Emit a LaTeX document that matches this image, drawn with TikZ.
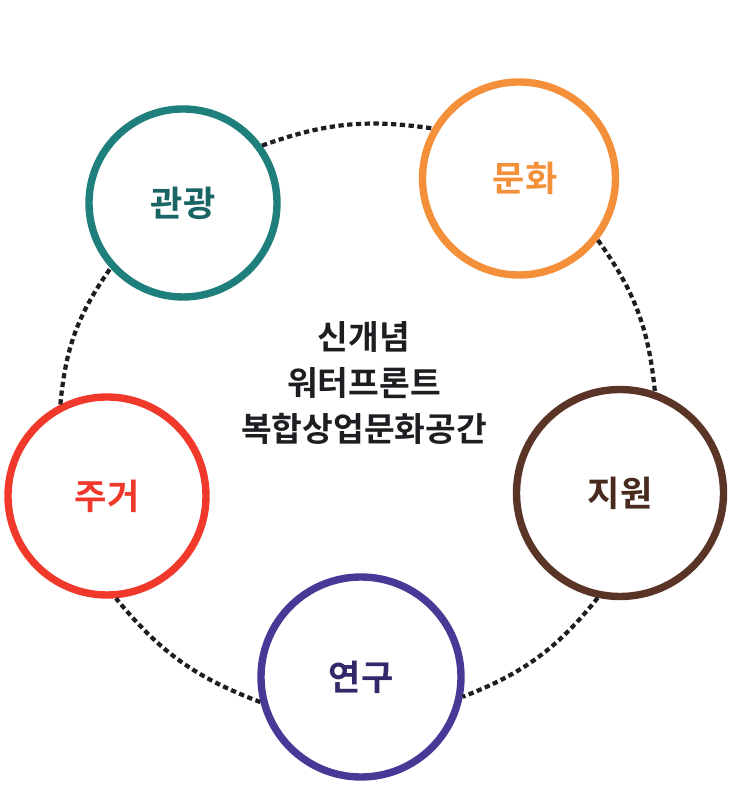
\documentclass[tikz,border=0pt]{standalone}
\usepackage{fontspec}
\setmainfont{Noto Sans CJK KR}[BoldFont={Noto Sans CJK KR Bold}]
\definecolor{tealring}{HTML}{1F7F7C}
\definecolor{orangering}{HTML}{F4903A}
\definecolor{brownring}{HTML}{5A3527}
\definecolor{purplering}{HTML}{463A96}
\definecolor{redring}{HTML}{F0392B}
\definecolor{inktext}{HTML}{1E1E22}
\tikzset{
    ring/.style={circle, draw=#1, line width=4.2pt, fill=white, minimum size=3.76cm, inner sep=0pt, font=\fontsize{20}{24}\selectfont\bfseries},
    link/.style={line width=2.4pt, dash pattern=on 3pt off 2pt, draw=inktext}
}
\begin{document}
\begin{tikzpicture}
    \useasboundingbox (0,0) rectangle (14.86,16.14);
    \fill[white] (0,0) rectangle (14.86,16.14);

    \node[ring=tealring, text=tealring!80!black] (tour) at (3.66,12.08) {관광};
    \node[ring=orangering, text=orangering, minimum size=3.86cm] (culture) at (10.38,12.57) {\hspace*{0.24cm}문화};
    \node[ring=brownring, text=brownring!80!black, minimum size=4.14cm] (support) at (12.40,6.28) {지원};
    \node[ring=purplering, text=purplering!70!black, minimum size=4cm] (research) at (7.22,2.6) {연구};
    \node[ring=redring, text=redring, minimum size=3.96cm] (housing) at (2.14,6.22) {주거};

    \draw[link] (tour.36) to[bend left=14] (culture.150);
    \draw[link] (culture.-38) to[bend left=15] (support.71);
    \draw[link] (support.-102) to[bend left=15] (research.-11);
    \draw[link] (research.194) to[bend left=15] (housing.-85);
    \draw[link] (housing.117) to[bend left=15] (tour.222);

    \node[align=center, text=inktext, font=\fontsize{19}{26}\selectfont\bfseries] (title) at (7.28,8.48) {신개념\\워터프론트\\복합상업문화공간};
\end{tikzpicture}
\end{document}
